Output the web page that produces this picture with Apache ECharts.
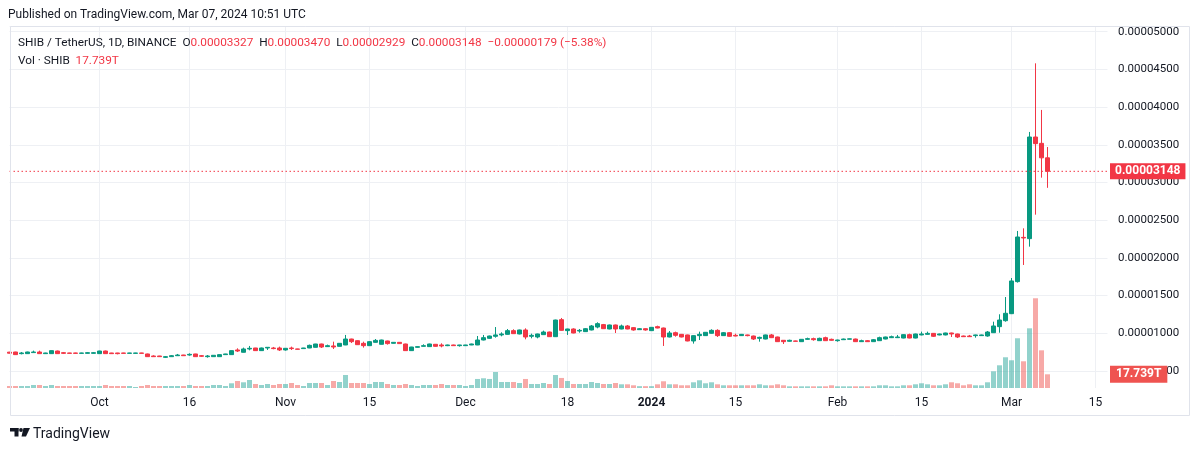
<!DOCTYPE html>
<html>
<head>
<meta charset="utf-8">
<script src="https://cdn.jsdelivr.net/npm/echarts@6/dist/echarts.min.js"></script>
<style>
html,body{margin:0;padding:0;background:#ffffff;}
#chart{width:1200px;height:451px;}
</style>
</head>
<body>
<div id="chart"></div>
<script>
// ---- Data (SHIB / TetherUS, 1D, BINANCE) ----
const firstDay = '2023-09-16';      // first category on the time axis
const lastDay = '2024-03-17';       // last category (empty future space)

const opens = [
7.50e-6,7.52e-6,7.30e-6,7.30e-6,7.44e-6,7.52e-6,7.30e-6,7.30e-6,7.65e-6,7.43e-6,
7.39e-6,7.39e-6,7.34e-6,7.34e-6,7.34e-6,7.30e-6,7.65e-6,7.39e-6,7.39e-6,7.39e-6,
7.34e-6,7.34e-6,7.39e-6,7.26e-6,6.99e-6,6.99e-6,6.81e-6,6.90e-6,7.03e-6,7.12e-6,
7.12e-6,7.26e-6,7.03e-6,6.90e-6,6.90e-6,6.90e-6,7.17e-6,7.17e-6,7.79e-6,7.48e-6,
7.92e-6,8.05e-6,7.70e-6,8.05e-6,8.05e-6,8.05e-6,7.79e-6,8.05e-6,7.92e-6,7.97e-6,
8.05e-6,8.14e-6,8.58e-6,8.23e-6,8.32e-6,8.27e-6,8.45e-6,9.24e-6,9.02e-6,8.67e-6,
8.36e-6,8.80e-6,8.54e-6,8.98e-6,8.67e-6,8.80e-6,8.58e-6,7.70e-6,8.14e-6,8.27e-6,
8.23e-6,8.54e-6,8.45e-6,8.36e-6,8.45e-6,8.36e-6,8.36e-6,8.45e-6,8.45e-6,9.11e-6,
9.33e-6,9.60e-6,9.78e-6,9.86e-6,10.35e-6,9.91e-6,10.44e-6,9.60e-6,9.51e-6,9.82e-6,
10.17e-6,9.55e-6,11.81e-6,10.35e-6,10.57e-6,10.30e-6,10.22e-6,10.44e-6,10.83e-6,11.15e-6,
10.57e-6,11.10e-6,10.57e-6,10.97e-6,10.75e-6,10.48e-6,10.61e-6,10.35e-6,10.88e-6,10.70e-6,
9.51e-6,10.08e-6,9.86e-6,9.78e-6,8.98e-6,9.69e-6,9.69e-6,10.00e-6,10.39e-6,9.69e-6,
10.08e-6,9.73e-6,9.69e-6,9.78e-6,9.64e-6,9.33e-6,9.24e-6,9.78e-6,9.51e-6,9.07e-6,
8.94e-6,8.98e-6,8.89e-6,9.20e-6,9.29e-6,9.02e-6,9.42e-6,9.20e-6,9.02e-6,9.15e-6,
9.22e-6,9.24e-6,8.89e-6,9.02e-6,8.89e-6,9.02e-6,9.24e-6,9.42e-6,9.42e-6,9.37e-6,
9.82e-6,9.37e-6,9.78e-6,9.86e-6,9.99e-6,9.78e-6,9.78e-6,10.04e-6,9.91e-6,9.64e-6,
9.64e-6,9.69e-6,9.69e-6,9.64e-6,10.08e-6,10.88e-6,11.67e-6,12.60e-6,16.85e-6,22.72e-6,
22.55e-6,36.03e-6,35.19e-6,33.27e-6
];
const highs = [
7.54e-6,7.55e-6,7.52e-6,7.56e-6,7.70e-6,7.70e-6,7.42e-6,7.72e-6,7.70e-6,7.52e-6,
7.41e-6,7.42e-6,7.42e-6,7.52e-6,7.52e-6,7.68e-6,7.70e-6,7.41e-6,7.41e-6,7.41e-6,
7.41e-6,7.41e-6,7.41e-6,7.30e-6,7.08e-6,7.01e-6,6.99e-6,7.12e-6,7.26e-6,7.14e-6,
7.34e-6,7.28e-6,7.12e-6,7.12e-6,7.10e-6,7.19e-6,7.28e-6,7.72e-6,8.01e-6,8.10e-6,
8.32e-6,8.07e-6,8.10e-6,8.16e-6,8.19e-6,8.23e-6,8.05e-6,8.23e-6,7.94e-6,8.07e-6,
8.50e-6,8.60e-6,8.62e-6,8.50e-6,8.89e-6,8.71e-6,9.78e-6,9.28e-6,9.06e-6,8.89e-6,
8.96e-6,9.24e-6,9.15e-6,9.02e-6,8.84e-6,8.84e-6,8.62e-6,8.20e-6,8.27e-6,8.54e-6,
8.62e-6,8.58e-6,8.67e-6,8.49e-6,8.49e-6,8.47e-6,8.47e-6,8.62e-6,9.64e-6,9.78e-6,
9.69e-6,10.83e-6,10.13e-6,10.57e-6,10.53e-6,10.48e-6,10.66e-6,9.95e-6,9.95e-6,10.35e-6,
10.22e-6,11.80e-6,12.03e-6,10.61e-6,10.66e-6,10.57e-6,10.70e-6,11.10e-6,11.46e-6,11.24e-6,
11.15e-6,11.15e-6,11.15e-6,11.10e-6,10.83e-6,10.70e-6,10.66e-6,10.83e-6,11.01e-6,10.75e-6,
10.30e-6,10.22e-6,9.91e-6,9.82e-6,9.73e-6,10.22e-6,10.17e-6,10.53e-6,10.53e-6,10.17e-6,
10.13e-6,9.95e-6,9.91e-6,9.82e-6,9.69e-6,9.55e-6,9.82e-6,9.91e-6,9.55e-6,9.11e-6,
9.15e-6,9.02e-6,9.24e-6,9.42e-6,9.42e-6,9.42e-6,9.55e-6,9.29e-6,9.15e-6,9.29e-6,
9.29e-6,9.29e-6,9.15e-6,9.11e-6,9.24e-6,9.55e-6,9.55e-6,9.69e-6,9.78e-6,9.86e-6,
9.95e-6,9.95e-6,10.22e-6,10.22e-6,10.04e-6,9.95e-6,10.08e-6,10.08e-6,9.95e-6,9.69e-6,
9.78e-6,9.82e-6,9.82e-6,10.30e-6,11.54e-6,12.52e-6,14.81e-6,17.33e-6,23.57e-6,23.92e-6,
36.70e-6,45.80e-6,39.62e-6,34.70e-6
];
const lows = [
7.33e-6,7.15e-6,7.21e-6,7.27e-6,7.42e-6,7.28e-6,7.27e-6,7.28e-6,7.28e-6,7.25e-6,
7.32e-6,7.31e-6,7.32e-6,7.32e-6,7.32e-6,7.28e-6,7.27e-6,7.28e-6,7.21e-6,7.32e-6,
7.32e-6,7.32e-6,7.32e-6,6.88e-6,6.88e-6,6.88e-6,6.72e-6,6.88e-6,7.01e-6,7.01e-6,
7.03e-6,6.88e-6,6.86e-6,6.77e-6,6.88e-6,6.88e-6,7.15e-6,7.15e-6,7.52e-6,7.46e-6,
7.74e-6,7.68e-6,7.68e-6,7.79e-6,7.88e-6,7.65e-6,7.70e-6,7.79e-6,7.86e-6,7.95e-6,
8.03e-6,8.12e-6,8.05e-6,8.20e-6,7.92e-6,8.25e-6,8.43e-6,8.71e-6,8.45e-6,8.10e-6,
8.32e-6,8.75e-6,8.52e-6,8.50e-6,8.65e-6,8.60e-6,7.68e-6,7.68e-6,8.10e-6,8.25e-6,
8.20e-6,8.23e-6,8.14e-6,8.30e-6,8.34e-6,8.23e-6,8.34e-6,8.43e-6,8.43e-6,9.06e-6,
9.28e-6,9.42e-6,9.60e-6,9.82e-6,9.91e-6,9.86e-6,9.20e-6,9.33e-6,9.33e-6,9.78e-6,
9.51e-6,9.51e-6,10.35e-6,9.78e-6,10.00e-6,10.08e-6,10.17e-6,10.39e-6,10.66e-6,10.57e-6,
10.53e-6,10.04e-6,10.53e-6,10.53e-6,10.35e-6,10.44e-6,10.35e-6,10.30e-6,10.66e-6,8.32e-6,
9.46e-6,9.55e-6,9.46e-6,8.94e-6,8.63e-6,9.11e-6,9.64e-6,9.95e-6,9.51e-6,9.64e-6,
9.55e-6,9.60e-6,9.64e-6,9.60e-6,9.11e-6,8.89e-6,9.20e-6,9.37e-6,8.85e-6,8.58e-6,
8.89e-6,8.92e-6,8.85e-6,9.15e-6,9.02e-6,8.98e-6,8.98e-6,9.02e-6,8.89e-6,9.11e-6,
9.20e-6,8.85e-6,8.85e-6,8.85e-6,8.85e-6,8.98e-6,9.20e-6,9.37e-6,9.37e-6,9.33e-6,
9.33e-6,9.33e-6,9.73e-6,9.82e-6,9.51e-6,9.73e-6,9.73e-6,9.51e-6,9.37e-6,9.51e-6,
9.51e-6,9.42e-6,9.64e-6,9.55e-6,10.04e-6,10.08e-6,11.54e-6,12.55e-6,16.72e-6,19.06e-6,
21.49e-6,25.73e-6,30.64e-6,29.29e-6
];
const closes = [
7.36e-6,7.17e-6,7.39e-6,7.52e-6,7.52e-6,7.30e-6,7.39e-6,7.70e-6,7.30e-6,7.34e-6,
7.34e-6,7.34e-6,7.39e-6,7.43e-6,7.43e-6,7.65e-6,7.30e-6,7.30e-6,7.30e-6,7.34e-6,
7.39e-6,7.39e-6,7.34e-6,6.90e-6,6.90e-6,6.90e-6,6.90e-6,7.03e-6,7.12e-6,7.03e-6,
7.21e-6,6.90e-6,6.95e-6,6.99e-6,7.08e-6,7.17e-6,7.26e-6,7.70e-6,7.65e-6,7.92e-6,
8.01e-6,7.70e-6,8.05e-6,8.14e-6,7.97e-6,7.79e-6,8.01e-6,7.97e-6,7.88e-6,8.05e-6,
8.40e-6,8.58e-6,8.18e-6,8.36e-6,8.18e-6,8.67e-6,9.24e-6,8.89e-6,8.49e-6,8.36e-6,
8.89e-6,9.06e-6,9.11e-6,8.63e-6,8.80e-6,8.63e-6,7.70e-6,8.18e-6,8.23e-6,8.36e-6,
8.58e-6,8.27e-6,8.32e-6,8.45e-6,8.36e-6,8.45e-6,8.45e-6,8.58e-6,9.11e-6,9.42e-6,
9.64e-6,9.78e-6,9.91e-6,10.35e-6,9.95e-6,10.44e-6,9.51e-6,9.73e-6,9.91e-6,10.17e-6,
9.55e-6,11.76e-6,10.39e-6,10.57e-6,10.04e-6,10.39e-6,10.61e-6,10.97e-6,11.28e-6,10.61e-6,
11.10e-6,10.57e-6,10.97e-6,10.57e-6,10.44e-6,10.61e-6,10.44e-6,10.79e-6,10.70e-6,9.51e-6,
10.04e-6,9.73e-6,9.51e-6,8.98e-6,9.69e-6,9.86e-6,10.13e-6,10.39e-6,9.69e-6,10.08e-6,
9.60e-6,9.64e-6,9.86e-6,9.69e-6,9.24e-6,9.46e-6,9.78e-6,9.42e-6,8.89e-6,8.89e-6,
9.07e-6,8.94e-6,9.20e-6,9.29e-6,9.15e-6,9.33e-6,9.02e-6,9.07e-6,9.11e-6,9.24e-6,
9.26e-6,8.89e-6,9.02e-6,8.89e-6,9.15e-6,9.42e-6,9.51e-6,9.55e-6,9.51e-6,9.82e-6,
9.37e-6,9.91e-6,9.91e-6,9.99e-6,9.60e-6,9.91e-6,10.04e-6,9.91e-6,9.51e-6,9.55e-6,
9.55e-6,9.78e-6,9.78e-6,10.17e-6,10.97e-6,11.76e-6,12.65e-6,16.94e-6,22.77e-6,22.64e-6,
36.03e-6,35.15e-6,33.27e-6,31.48e-6
];
const volumes = [
2.6e12,2.6e12,2.6e12,2.6e12,3.9e12,3.9e12,2.6e12,3.9e12,2.6e12,2.6e12,
2.6e12,2.6e12,2.6e12,2.6e12,2.6e12,2.6e12,3.9e12,2.6e12,2.6e12,2.6e12,
2.6e12,1.3e12,2.6e12,3.9e12,2.6e12,2.6e12,2.6e12,2.6e12,2.6e12,2.6e12,
3.9e12,2.6e12,2.6e12,2.6e12,3.9e12,3.9e12,2.6e12,6.1e12,9.1e12,7.4e12,
10.4e12,5.2e12,3.9e12,5.2e12,3.9e12,5.2e12,5.2e12,6.5e12,3.9e12,2.6e12,
6.5e12,6.5e12,6.5e12,3.9e12,9.1e12,7.8e12,16.8e12,6.5e12,6.5e12,6.5e12,
5.2e12,7.8e12,7.8e12,5.2e12,3.9e12,3.9e12,5.2e12,3.9e12,2.6e12,3.9e12,
3.9e12,3.9e12,5.2e12,3.9e12,3.9e12,3.9e12,2.6e12,3.9e12,11.7e12,12.6e12,
11.7e12,20.7e12,7.8e12,7.8e12,7.8e12,6.5e12,11.7e12,5.2e12,5.2e12,6.5e12,
5.2e12,16.8e12,13.0e12,9.1e12,5.2e12,5.2e12,5.2e12,7.8e12,6.5e12,5.2e12,
5.2e12,6.5e12,4.8e12,4.8e12,3.5e12,2.4e12,2.4e12,2.4e12,4.8e12,8.7e12,
4.8e12,4.8e12,3.5e12,3.5e12,7.4e12,10.0e12,6.1e12,7.4e12,4.8e12,3.5e12,
3.5e12,3.5e12,3.5e12,3.5e12,3.5e12,4.8e12,3.5e12,3.5e12,4.8e12,3.5e12,
2.2e12,2.2e12,2.2e12,2.2e12,2.2e12,2.2e12,2.2e12,3.5e12,2.2e12,2.2e12,
2.2e12,2.2e12,2.2e12,2.2e12,2.2e12,3.5e12,3.5e12,2.2e12,2.2e12,3.5e12,
3.5e12,4.8e12,6.1e12,4.8e12,3.5e12,3.5e12,4.8e12,7.4e12,6.1e12,3.5e12,
4.8e12,3.5e12,3.5e12,7.4e12,21.6e12,29.4e12,39.8e12,35.9e12,64.4e12,34.6e12,
77.3e12,116.2e12,48.8e12,17.739e12
];

const tickDates = ['2023-10-01','2023-10-16','2023-11-01','2023-11-15','2023-12-01','2023-12-18',
                   '2024-01-01','2024-01-15','2024-02-01','2024-02-15','2024-03-01','2024-03-15'];
const tickTexts = ['Oct','16','Nov','15','Dec','18','2024','15','Feb','15','Mar','15'];
const boldTicks = ['2024'];

const priceTicks = [0.000005,0.00001,0.000015,0.00002,0.000025,0.00003,0.000035,0.00004,0.000045,0.00005];

// ---- Build ----
const UP = '#089981', DOWN = '#f23645';
const VOL_UP = 'rgba(38,166,154,0.5)', VOL_DOWN = 'rgba(239,83,80,0.5)';
const TEXT = '#131722', GRIDC = '#eef0f4';
const FONT = 'Roboto, "Liberation Sans", sans-serif';

const dates = [];
{
  const d = new Date(firstDay + 'T00:00:00Z');
  const end = new Date(lastDay + 'T00:00:00Z');
  while (d <= end) { dates.push(d.toISOString().slice(0,10)); d.setUTCDate(d.getUTCDate()+1); }
}
const tickMap = {};
tickDates.forEach((t,i)=>{ tickMap[t] = tickTexts[i]; });

const candleData = opens.map((o,i)=>[o, closes[i], lows[i], highs[i]]);
const volData = volumes.map((v,i)=>({value:v, itemStyle:{color: closes[i] >= opens[i] ? VOL_UP : VOL_DOWN}}));

const n = opens.length - 1;
const lastO = opens[n], lastH = highs[n], lastL = lows[n], lastC = closes[n];
const chg = lastC - closes[n-1];
const pct = chg / closes[n-1] * 100;
const minus = '\u2212';
const sign = chg < 0 ? minus : '+';
const lastColor = lastC >= lastO ? UP : DOWN;
const f8 = v => v.toFixed(8);
const volText = (volumes[n]/1e12).toFixed(3) + 'T';

const headerText =
  '{n|SHIB / TetherUS, 1D, BINANCE}  {k|O}{v|' + f8(lastO) + '}  {k|H}{v|' + f8(lastH) +
  '}  {k|L}{v|' + f8(lastL) + '}  {k|C}{v|' + f8(lastC) + '}  {v|' + sign + f8(Math.abs(chg)) +
  ' (' + sign + Math.abs(pct).toFixed(2) + '%)}';

const isPriceTick = v => priceTicks.some(t => Math.abs(t - v) < 1e-10);

// horizontal guide lines (last price / last volume) drawn through the axes
const priceLineData = [[dates[0], lastC], [dates[dates.length-1], lastC]];
const volLineData = [[dates[0], volumes[n]], [dates[dates.length-1], volumes[n]]];

const chart = echarts.init(document.getElementById('chart'), null, {renderer:'canvas'});
const plain = (c, s) => ({fontSize: s || 12, fontWeight: 'normal', color: c, fontFamily: FONT});
const option = {
  animation: false,
  backgroundColor: '#ffffff',
  textStyle: {fontFamily: FONT},
  title: [
    {text: 'Published on TradingView.com, Mar 07, 2024 10:51 UTC', left: 8, top: 9, padding: 0,
     textStyle: plain(TEXT)},
    {text: headerText, left: 18, top: 37, padding: 0,
     textStyle: Object.assign(plain(TEXT, 11.8), {rich: {n: plain(TEXT, 11.8), k: plain(TEXT, 11.8), v: plain(lastColor, 11.8)}})},
    {text: '{n|Vol \u00B7 SHIB}  {v|' + volText + '}', left: 18, top: 55, padding: 0,
     textStyle: Object.assign(plain(TEXT, 11.8), {rich: {n: plain(TEXT, 11.8), v: plain(DOWN, 11.8)}})},
    {text: 'TradingView', left: 33, top: 427, padding: 0,
     textStyle: {fontSize: 14, fontWeight: 'normal', color: TEXT, fontFamily: FONT}}
  ],
  grid: [
    {left: 9.5, right: 92.5, top: 26, bottom: 42.3},
    {left: 9.5, right: 92.5, top: 26, bottom: 63}
  ],
  xAxis: [
    {type: 'category', gridIndex: 0, data: dates, boundaryGap: false, show: false},
    {type: 'category', gridIndex: 1, data: dates, boundaryGap: false,
     axisLine: {show: false}, axisTick: {show: false},
     axisLabel: {
       interval: (idx, val) => tickMap[val] !== undefined,
       formatter: val => {
         const t = tickMap[val];
         if (t === undefined) return '';
         return boldTicks.includes(t) ? '{b|' + t + '}' : t;
       },
       color: TEXT, fontSize: 12, margin: 9, fontFamily: FONT,
       rich: {b: {fontWeight: 'bold', fontSize: 12, color: TEXT, fontFamily: FONT}}
     },
     splitLine: {show: true, interval: (idx, val) => tickMap[val] !== undefined,
       lineStyle: {color: GRIDC, width: 1}}
    }
  ],
  yAxis: [
    {type: 'value', gridIndex: 0, position: 'right', min: 0, max: 50.75e-6, interval: 5e-6,
     axisLine: {show: false}, axisTick: {show: false},
     axisLabel: {
       formatter: v => isPriceTick(v) ? v.toFixed(8) : '',
       showMinLabel: true, showMaxLabel: true,
       color: TEXT, fontSize: 11.5, margin: 10.5, fontFamily: FONT
     },
     splitLine: {show: true, showMinLine: false, lineStyle: {color: GRIDC, width: 1}}
    },
    {type: 'value', gridIndex: 1, min: 0, max: 468.8e12, show: false}
  ],
  series: [
    {
      type: 'bar', name: 'Vol', xAxisIndex: 1, yAxisIndex: 1, data: volData,
      barWidth: 5, z: 1
    },
    {
      type: 'candlestick', name: 'SHIB', xAxisIndex: 0, yAxisIndex: 0, data: candleData,
      barWidth: 4, z: 3,
      itemStyle: {color: UP, color0: DOWN, borderColor: UP, borderColor0: DOWN, borderWidth: 1}
    },
    {
      type: 'line', name: 'lastPrice', xAxisIndex: 0, yAxisIndex: 0, data: priceLineData,
      symbol: 'none', silent: true, z: 4,
      lineStyle: {color: lastColor, type: [1.5, 2.5], width: 1},
      endLabel: {show: true, distance: 2.5, formatter: () => f8(lastC),
        backgroundColor: lastColor, color: '#ffffff', fontWeight: 'bold', fontSize: 12,
        lineHeight: 12, padding: [2, 5, 2, 5], fontFamily: FONT}
    },
    {
      type: 'line', name: 'lastVol', xAxisIndex: 1, yAxisIndex: 1, data: volLineData,
      symbol: 'none', silent: true, z: 4,
      lineStyle: {opacity: 0, width: 0},
      endLabel: {show: true, distance: 2.5, formatter: () => volText,
        backgroundColor: '#ef5350', color: '#ffffff', fontWeight: 'bold', fontSize: 12,
        lineHeight: 12, padding: [3, 6, 2, 6], fontFamily: FONT}
    }
  ],
  graphic: [
    {type: 'rect', z: 99, silent: true, shape: {x: 1109, y: 0, width: 81, height: 26},
     style: {fill: '#ffffff'}},
    {type: 'rect', z: 100, silent: true, shape: {x: 10.5, y: 26.5, width: 1179, height: 389},
     style: {fill: 'none', stroke: '#e0e3eb', lineWidth: 1}},
    {type: 'group', z: 100, silent: true, children: [
      {type: 'rect', shape: {x: 10, y: 428, width: 8.5, height: 3.5}, style: {fill: TEXT}},
      {type: 'rect', shape: {x: 14.5, y: 428, width: 4, height: 8.5}, style: {fill: TEXT}},
      {type: 'circle', shape: {cx: 21, cy: 430, r: 1.9}, style: {fill: TEXT}},
      {type: 'polygon', shape: {points: [[23.5,428],[30,428],[26,436.5],[21.5,436.5]]}, style: {fill: TEXT}}
    ]}
  ]
};
chart.setOption(option);
</script>
</body>
</html>
